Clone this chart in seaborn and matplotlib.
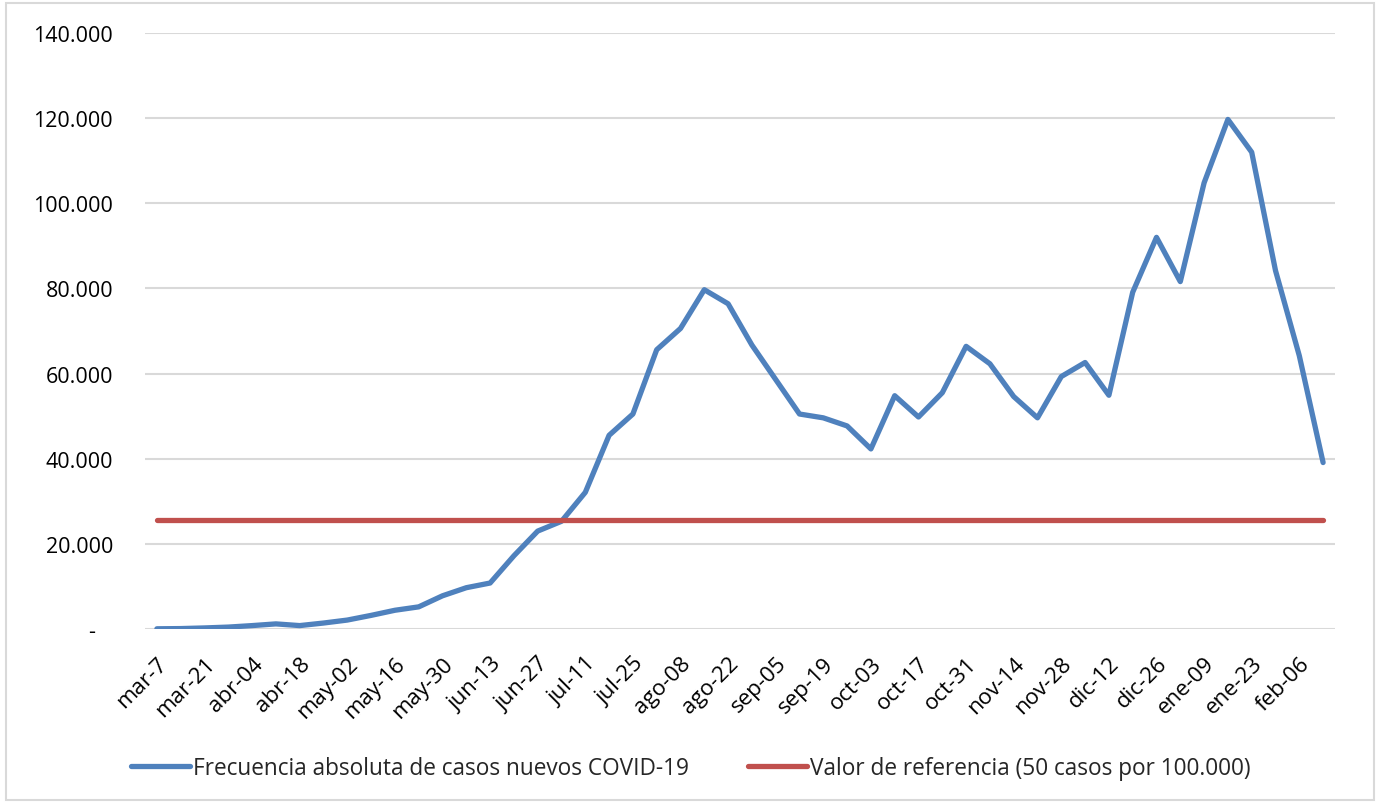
import matplotlib
matplotlib.use("Agg")
import matplotlib.pyplot as plt
import matplotlib.ticker as mticker
import seaborn as sns
import numpy as np
import pandas as pd

# --- Datos (semanas, casos nuevos) ---
etiquetas = ["mar-7", "mar-21", "abr-04", "abr-18", "may-02", "may-16", "may-30",
             "jun-13", "jun-27", "jul-11", "jul-25", "ago-08", "ago-22", "sep-05",
             "sep-19", "oct-03", "oct-17", "oct-31", "nov-14", "nov-28", "dic-12",
             "dic-26", "ene-09", "ene-23", "feb-06"]

casos = [50, 100, 250, 450, 800, 1200, 800, 1400, 2100, 3200,
         4400, 5200, 7800, 9700, 10800, 17200, 23000, 25300, 32100, 45500,
         50500, 65600, 70600, 79700, 76400, 66700, 58600, 50500, 49600, 47700,
         42300, 54800, 49800, 55500, 66400, 62300, 54600, 49600, 59300, 62600,
         54900, 79100, 92000, 81600, 104800, 119700, 112000, 84200, 64200, 39100]

valor_referencia = 25500

azul = "#4F81BD"
rojo = "#C0504D"
gris = "#D9D9D9"

sns.set_theme(style="white")
plt.rcParams["font.family"] = ["Open Sans", "DejaVu Sans"]

df = pd.DataFrame({"semana": np.arange(len(casos)), "casos": casos})
df["referencia"] = valor_referencia

fig = plt.figure(figsize=(13.82, 8.03), dpi=100)
ax = fig.add_axes([145 / 1382, 1 - 630 / 803, 1190 / 1382, 596 / 803])

sns.lineplot(data=df, x="semana", y="casos", ax=ax, color=azul, lw=3.8,
             label="Frecuencia absoluta de casos nuevos COVID-19",
             solid_capstyle="round", solid_joinstyle="round")
sns.lineplot(data=df, x="semana", y="referencia", ax=ax, color=rojo, lw=3.8,
             label="Valor de referencia (50 casos por 100.000)",
             solid_capstyle="round")

ax.set_xlim(-0.5, len(casos) - 0.5)
ax.set_ylim(0, 140000)
ax.yaxis.set_major_locator(mticker.MultipleLocator(20000))


def fmt_miles(v, pos):
    if v == 0:
        return "-   "
    return f"{int(v):,}".replace(",", ".")


ax.yaxis.set_major_formatter(mticker.FuncFormatter(fmt_miles))
ax.grid(axis="y", color=gris, lw=1.5)
ax.set_axisbelow(True)

ax.set_xticks(np.arange(0, len(casos), 2))
ax.set_xticklabels(etiquetas, rotation=45, ha="right", rotation_mode="anchor")
ax.tick_params(axis="x", length=0, pad=17, labelsize=16, labelcolor="#000000")
ax.tick_params(axis="y", length=0, pad=23, labelsize=15.5, labelcolor="#000000")
ax.set_xlabel("")
ax.set_ylabel("")
for s in ax.spines.values():
    s.set_visible(False)

ax.legend(loc="center", bbox_to_anchor=(0.500, 0.042), bbox_transform=fig.transFigure,
          ncol=2, frameon=False, fontsize=16.3, handlelength=2.6, handletextpad=0.15,
          columnspacing=2.6)

# borde del área del gráfico
fig.patches.append(plt.Rectangle((0.004, 0.003), 0.99, 0.992, transform=fig.transFigure,
                                 fill=False, edgecolor=gris, lw=1.5))

plt.savefig("out.png", dpi=100)
plt.close()
